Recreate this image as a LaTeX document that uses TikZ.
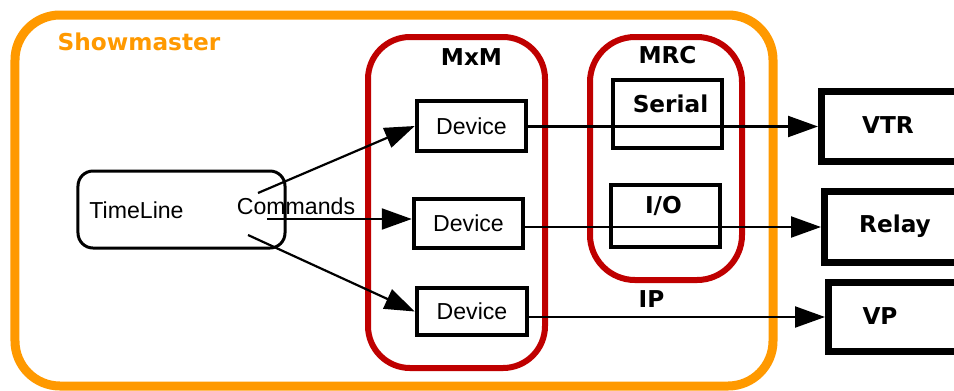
\documentclass[tikz,border=0pt]{standalone}
\usepackage{fontspec}
\setmainfont{Liberation Sans}
\newfontfamily\dvb{DejaVu Sans Bold}
\usetikzlibrary{arrows.meta}
\definecolor{smorange}{HTML}{FF9900}
\definecolor{mxred}{HTML}{BF0000}
\tikzset{
  showbox/.style={draw=smorange, line width=9bp, rounded corners=45bp, inner sep=0pt},
  groupbox/.style={draw=mxred, line width=6bp, rounded corners=42bp, inner sep=0pt},
  devbox/.style={draw, line width=4.5bp, inner sep=0pt, font=\fontsize{23.2}{27}\selectfont},
  portbox/.style={draw, line width=4.5bp, inner sep=0pt},
  tlbox/.style={draw, line width=3bp, rounded corners=15bp, inner sep=0pt},
  extbox/.style={draw, line width=7bp, inner sep=0pt},
  boldlbl/.style={anchor=base, inner sep=0pt, font=\dvb\fontsize{23.3}{27}\selectfont},
  plainlbl/.style={anchor=base, inner sep=0pt, font=\fontsize{23.2}{27}\selectfont},
  arr/.style={line width=2.2bp, -{Triangle[length=30bp,width=21bp]}}
}
\begin{document}
\begin{tikzpicture}[x=1bp,y=-1bp]
\useasboundingbox (0,0) rectangle (954,390);
% containers
\node[showbox, minimum width=758bp, minimum height=371bp] (show) at (394,200.5) {};
\node[groupbox, minimum width=177bp, minimum height=331bp] (mxm) at (456.5,202.5) {};
\node[groupbox, rounded corners=45bp, minimum width=152bp, minimum height=243bp] (mrc) at (666,158.5) {};
% labels
\node[boldlbl, text=smorange] (showlbl) at (139,50) {Showmaster};
\node[boldlbl] (mxmlbl) at (471.5,65.5) {MxM};
\node[boldlbl] (mrclbl) at (667.5,63.5) {MRC};
% MRC ports
\node[portbox, minimum width=109bp, minimum height=68bp] (serial) at (667.5,114) {};
\node[boldlbl] (seriallbl) at (670.5,112) {Serial};
\node[portbox, minimum width=109bp, minimum height=62bp] (io) at (665.5,216) {};
\node[boldlbl] (iolbl) at (663.5,213) {I/O};
% devices
\node[devbox, minimum width=109bp, minimum height=50bp] (dev1) at (471.5,126) {Device};
\node[devbox, minimum width=109bp, minimum height=49bp] (dev2) at (468.5,223.5) {Device};
\node[devbox, minimum width=110bp, minimum height=47bp] (dev3) at (472,311.5) {Device};
% timeline
\node[tlbox, minimum width=207bp, minimum height=77bp] (tl) at (181.5,209.5) {};
\node[plainlbl] (tllbl) at (136.5,218) {TimeLine};
\node[plainlbl] (cmdlbl) at (296,214) {Commands};
% external boxes
\node[extbox, minimum width=160bp, minimum height=70bp] (vtr) at (901.5,126.5) {};
\node[boldlbl] (vtrlbl) at (888,133) {VTR};
\node[extbox, minimum width=160bp, minimum height=71bp] (relay) at (904.5,227) {};
\node[boldlbl] (relaylbl) at (895,232.5) {Relay};
\node[extbox, minimum width=160bp, minimum height=69bp] (vp) at (908.5,317) {};
\node[boldlbl] (vplbl) at (880,324) {VP};
\node[boldlbl] (iplbl) at (651.5,307) {IP};
% connectors
\coordinate (c1) at (258,193);
\coordinate (c2) at (267,219);
\coordinate (c3) at (248,235);
\draw[arr] (c1) -- (dev1.west);
\draw[arr] (c2) -- (c2 -| dev2.west);
\draw[arr] (c3) -- (dev3.west);
\draw[arr] (dev1.east |- vtr.west) -- (vtr.west);
\draw[arr] (dev2.east |- relay.west) -- (relay.west);
\draw[arr] (dev3.east |- vp.west) -- (vp.west);
\end{tikzpicture}
\end{document}
